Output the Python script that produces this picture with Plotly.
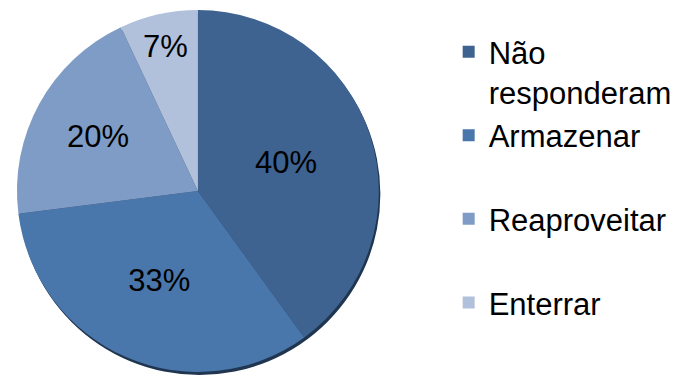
import plotly.graph_objects as go

labels = ["Não<br>responderam", "Armazenar<br> ", "Reaproveitar<br> ", "Enterrar<br> "]
values = [40, 33, 20, 7]
colors = ["#3e6391", "#4a77ab", "#7f9cc6", "#b1c1dc"]

W, H = 677, 376
cx, cy, R = 198.5, 191.0, 181.5

def dom(dx=0.0, dy=0.0):
    y0 = max(0.0, 1 - (cy + R + dy) / H)
    y1 = min(1.0, 1 - (cy - R + dy) / H)
    return dict(x=[(cx - R + dx) / W, (cx + R + dx) / W], y=[y0, y1])

fig = go.Figure()

# soft shadow under the pie
fig.add_trace(go.Pie(
    values=[1], labels=["shadow"], sort=False,
    marker=dict(colors=["#1f3550"], line=dict(width=0)),
    textinfo="none", hoverinfo="skip", showlegend=False,
    domain=dom(1.5, 3.0),
))

fig.add_trace(go.Pie(
    labels=labels,
    values=values,
    sort=False,
    direction="clockwise",
    rotation=0,
    marker=dict(colors=colors, line=dict(width=0)),
    texttemplate="%{value}%",
    textposition="inside",
    insidetextorientation="horizontal",
    textfont=dict(family="Arial, Liberation Sans", size=31, color="#000000"),
    domain=dom(),
    hoverinfo="label+percent",
))

fig.update_layout(
    width=W, height=H,
    margin=dict(l=0, r=0, t=0, b=0),
    paper_bgcolor="white",
    plot_bgcolor="white",
    showlegend=True,
    legend=dict(
        x=450 / W, xanchor="left",
        y=1 - 25 / H, yanchor="top",
        valign="top",
        font=dict(family="Arial, Liberation Sans", size=31, color="#000000"),
        bgcolor="rgba(0,0,0,0)",
        itemclick=False,
    ),
)

fig.write_html("out.html")
